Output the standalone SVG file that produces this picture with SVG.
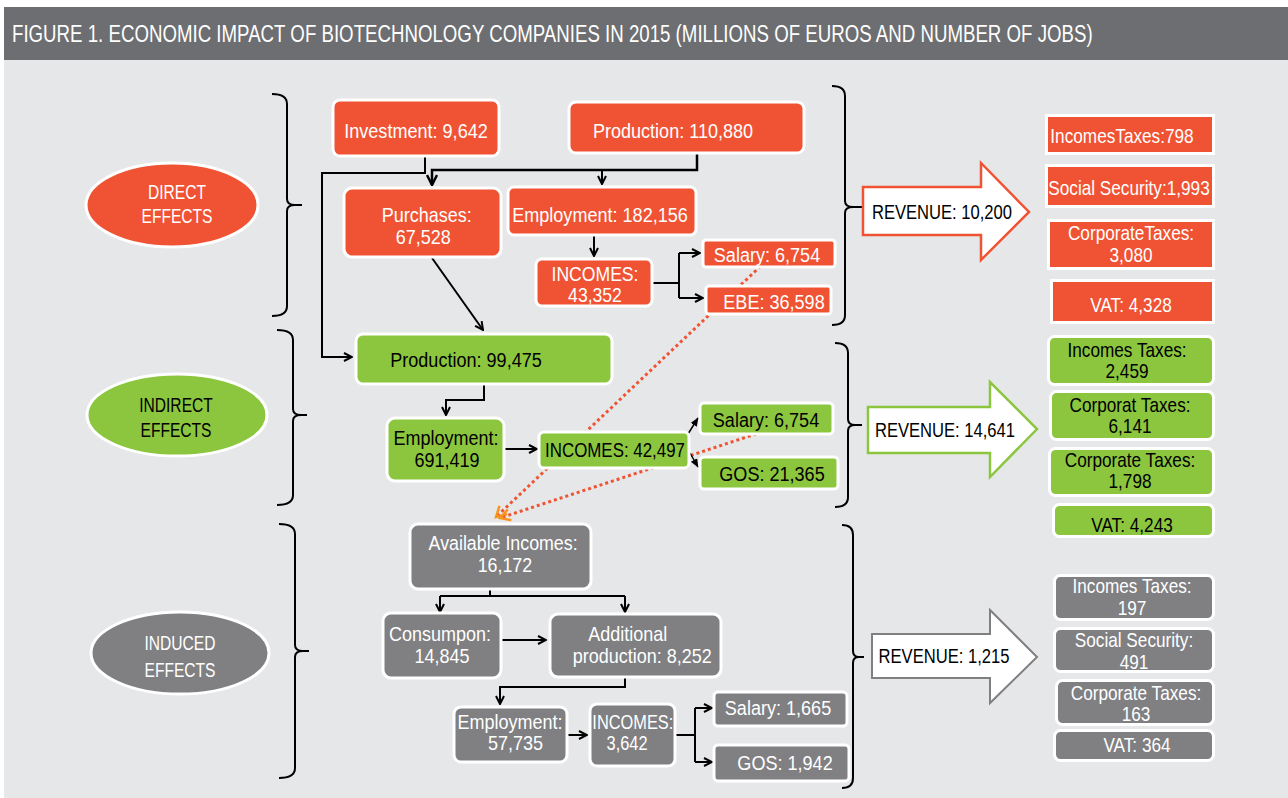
<svg xmlns="http://www.w3.org/2000/svg" width="1288" height="798" viewBox="0 0 1288 798">
<style>
text{font-family:"Liberation Sans",Arial,sans-serif;text-anchor:middle}
.t{font-size:21px}
.s{font-size:20px}
.w{fill:#fff}
.k{fill:#000}
.o{fill:#f05333}
.g{fill:#8cc63f}
.y{fill:#808083}
.bx{stroke:#fff;stroke-width:3}
.c{fill:none;stroke:#000;stroke-width:2}
.br{fill:none;stroke:#000;stroke-width:2}
.dot{fill:none;stroke:#f05333;stroke-width:3;stroke-dasharray:3 3}
</style>
<defs>
<marker id="ah" viewBox="0 0 10 10" refX="9" refY="5" markerWidth="5" markerHeight="5" orient="auto" markerUnits="strokeWidth">
<path d="M1,1 L9,5 L1,9" fill="none" stroke="#000" stroke-width="2"/>
</marker>
<marker id="ahs" viewBox="0 0 10 10" refX="9" refY="5" markerWidth="6" markerHeight="6" orient="auto" markerUnits="strokeWidth">
<path d="M0,1 L10,5 L0,9 Z" fill="#000"/>
</marker>
<marker id="aho" viewBox="0 0 12 12" refX="10" refY="6" markerWidth="4.5" markerHeight="4.5" orient="auto" markerUnits="strokeWidth">
<path d="M1,1 L10,6 L1,11" fill="none" stroke="#f7941d" stroke-width="2.2"/>
</marker>
</defs>
<rect x="0" y="0" width="1288" height="798" fill="#fff"/>
<rect x="4" y="60" width="1284" height="738" fill="#e6e7e8"/>
<g id="header">
<rect x="4" y="7" width="1284" height="53" fill="#6d6e71"/>
<text transform="translate(12 42) scale(.778 1)" style="text-anchor:start;font-size:24px" fill="#fff">FIGURE 1. ECONOMIC IMPACT OF BIOTECHNOLOGY COMPANIES IN 2015 (MILLIONS OF EUROS AND NUMBER OF JOBS)</text>
</g>

<g id="connectors">
<path class="dot" d="M765,262 L496,517" marker-end="url(#aho)"/>
<path class="dot" d="M762,432 L500,518" marker-end="url(#aho)"/>
<path class="c" style="stroke-width:2.5" d="M697,153 V170 H432 V185" marker-end="url(#ah)"/>
<path class="c" d="M602,170 V184" marker-end="url(#ah)"/>
<path class="c" d="M425,157 V173 H322 V357 H352" marker-end="url(#ah)"/>
<path class="c" d="M594,235 V256" marker-end="url(#ah)"/>
<path class="c" d="M653,283 H679 M679,253 V298"/>
<path class="c" d="M679,253 H700" marker-end="url(#ah)"/>
<path class="c" d="M679,298 H703" marker-end="url(#ah)"/>
<path class="c" d="M432,258 L483,330" marker-end="url(#ah)"/>
<path class="c" d="M484,384 V400 H446 V415" marker-end="url(#ah)"/>
<path class="c" d="M505,449 H537" marker-end="url(#ah)"/>
<path class="c" style="stroke-width:1.5" d="M688,434 L698,418" marker-end="url(#ahs)"/>
<path class="c" style="stroke-width:1.5" d="M690,453 L698,467" marker-end="url(#ahs)"/>
<path class="c" d="M490,589 V596 M440,596 H625"/>
<path class="c" d="M440,596 V612" marker-end="url(#ah)"/>
<path class="c" d="M625,596 V612" marker-end="url(#ah)"/>
<path class="c" d="M502,640 H546" marker-end="url(#ah)"/>
<path class="c" d="M625,677 V687 H500 V704" marker-end="url(#ah)"/>
<path class="c" d="M568,735 H587" marker-end="url(#ah)"/>
<path class="c" d="M676,735 H695 M695,708 V762"/>
<path class="c" d="M695,708 H712" marker-end="url(#ah)"/>
<path class="c" d="M695,762 H712" marker-end="url(#ah)"/>
</g>

<g id="braces">
<path class="br" d="M272,94 Q287,94 287,104 V199 Q287,205 295,205 H302 M295,205 Q287,205 287,211 V306 Q287,316 272,316"/>
<path class="br" d="M277,330 Q293,330 293,340 V409 Q293,415 301,415 H307 M301,415 Q293,415 293,421 V495 Q293,505 277,505"/>
<path class="br" d="M279,524 Q295,524 295,534 V645 Q295,651 303,651 H309 M303,651 Q295,651 295,657 V768 Q295,778 279,778"/>
<path class="br" d="M832,86 Q845,86 845,96 V201 Q845,207 853,207 H862 M853,207 Q845,207 845,213 V315 Q845,325 832,325"/>
<path class="br" d="M835,343 Q848,343 848,353 V419 Q848,425 855,425 H862 M855,425 Q848,425 848,431 V497 Q848,507 835,507"/>
<path class="br" d="M842,525 Q853,525 853,535 V651 Q853,657 859,657 H864 M859,657 Q853,657 853,663 V778 Q853,788 842,788"/>
</g>

<g id="direct-effects">
<ellipse class="o bx" cx="172" cy="205" rx="86" ry="42"/>
<text class="s w" transform="translate(177 199) scale(.78 1)"><tspan x="0">DIRECT</tspan><tspan x="0" dy="24">EFFECTS</tspan></text>
</g>
<g id="indirect-effects">
<ellipse class="g bx" cx="177" cy="415" rx="90" ry="41"/>
<text class="s k" transform="translate(176 412) scale(.78 1)"><tspan x="0">INDIRECT</tspan><tspan x="0" dy="25">EFFECTS</tspan></text>
</g>
<g id="induced-effects">
<ellipse class="y bx" cx="180" cy="653" rx="89" ry="41"/>
<text class="s w" transform="translate(180 650) scale(.78 1)"><tspan x="0">INDUCED</tspan><tspan x="0" dy="27">EFFECTS</tspan></text>
</g>

<g id="investment">
<rect class="o bx" x="333" y="100" width="166" height="56" rx="7"/>
<text class="t w" transform="translate(416 138) scale(.86 1)">Investment: 9,642</text>
</g>
<g id="production-direct">
<rect class="o bx" x="569" y="102" width="235" height="51" rx="7"/>
<text class="t w" transform="translate(673 138) scale(.86 1)">Production: 110,880</text>
</g>
<g id="purchases">
<rect class="o bx" x="344" y="188" width="157" height="69" rx="8"/>
<text class="s w" transform="translate(425 222) scale(.9 1)"><tspan x="2">Purchases:</tspan><tspan x="-2" dy="22">67,528</tspan></text>
</g>
<g id="employment-direct">
<rect class="o bx" x="508" y="187" width="188" height="48" rx="6"/>
<text class="t w" transform="translate(600 222) scale(.86 1)">Employment: 182,156</text>
</g>
<g id="incomes-direct">
<rect class="o bx" x="536" y="259" width="116" height="47" rx="6"/>
<text class="s w" transform="translate(595 280.5) scale(.88 1)"><tspan x="0">INCOMES:</tspan><tspan x="0" dy="21.5">43,352</tspan></text>
</g>
<g id="salary-direct">
<rect class="o bx" x="703" y="240" width="132" height="27" rx="3"/>
<text class="t w" transform="translate(767 262) scale(.86 1)">Salary: 6,754</text>
</g>
<g id="ebe-direct">
<rect class="o bx" x="706" y="286" width="125" height="28" rx="3"/>
<text class="t w" transform="translate(774 309) scale(.86 1)">EBE: 36,598</text>
</g>

<g id="production-indirect">
<rect class="g bx" x="356" y="334" width="256" height="50" rx="7"/>
<text class="t k" transform="translate(466 367) scale(.86 1)">Production: 99,475</text>
</g>
<g id="employment-indirect">
<rect class="g bx" x="387" y="418" width="117" height="63" rx="8"/>
<text class="s k" transform="translate(446 445) scale(.9 1)"><tspan x="0">Employment:</tspan><tspan x="1" dy="22">691,419</tspan></text>
</g>
<g id="incomes-indirect">
<rect class="g bx" x="539" y="432" width="150" height="36" rx="5"/>
<text class="t k" transform="translate(615 457) scale(.805 1)">INCOMES: 42,497</text>
</g>
<g id="salary-indirect">
<rect class="g bx" x="700" y="403" width="133" height="31" rx="4"/>
<text class="t k" transform="translate(766 427) scale(.86 1)">Salary: 6,754</text>
</g>
<g id="gos-indirect">
<rect class="g bx" x="700" y="457" width="138" height="32" rx="4"/>
<text class="t k" transform="translate(772 481) scale(.86 1)">GOS: 21,365</text>
</g>

<g id="available-incomes">
<rect class="y bx" x="410" y="524" width="181" height="65" rx="8"/>
<text class="s w" transform="translate(504 550) scale(.89 1)"><tspan x="-1">Available Incomes:</tspan><tspan x="1" dy="22">16,172</tspan></text>
</g>
<g id="consumption">
<rect class="y bx" x="383" y="613" width="118" height="65" rx="8"/>
<text class="s w" transform="translate(441 641) scale(.9 1)"><tspan x="-1">Consumpon:</tspan><tspan x="1" dy="22">14,845</tspan></text>
</g>
<g id="additional-production">
<rect class="y bx" x="550" y="614" width="171" height="63" rx="8"/>
<text class="s w" transform="translate(635 641) scale(.9 1)"><tspan x="-8">Additional</tspan><tspan x="8" dy="22">production: 8,252</tspan></text>
</g>
<g id="employment-induced">
<rect class="y bx" x="454" y="707" width="113" height="55" rx="7"/>
<text class="s w" transform="translate(511 729) scale(.9 1)"><tspan x="-1">Employment:</tspan><tspan x="5" dy="21.5">57,735</tspan></text>
</g>
<g id="incomes-induced">
<rect class="y bx" x="590" y="704" width="85" height="62" rx="7"/>
<text class="s w" transform="translate(632 729) scale(.82 1)"><tspan x="1">INCOMES:</tspan><tspan x="-6" dy="21.5">3,642</tspan></text>
</g>
<g id="salary-induced">
<rect class="y bx" x="714" y="692" width="133" height="34" rx="4"/>
<text class="t w" transform="translate(778 715) scale(.86 1)">Salary: 1,665</text>
</g>
<g id="gos-induced">
<rect class="y bx" x="714" y="745" width="135" height="36" rx="4"/>
<text class="t w" transform="translate(785 770) scale(.86 1)">GOS: 1,942</text>
</g>

<g id="revenue-direct">
<polygon points="863,187 981,187 981,163 1029,212 981,260 981,235 863,235" fill="#fff" stroke="#f05333" stroke-width="2.5"/>
<text class="t k" transform="translate(942 219) scale(.79 1)">REVENUE: 10,200</text>
</g>
<g id="revenue-indirect">
<polygon points="868,407 990,407 990,382 1037,429 990,477 990,453 868,453" fill="#fff" stroke="#8cc63f" stroke-width="2.5"/>
<text class="t k" transform="translate(945 437) scale(.79 1)">REVENUE: 14,641</text>
</g>
<g id="revenue-induced">
<polygon points="872,634 990,634 990,610 1037,657 990,703 990,678 872,678" fill="#fff" stroke="#808083" stroke-width="2"/>
<text class="t k" transform="translate(944 663) scale(.79 1)">REVENUE: 1,215</text>
</g>

<g id="tax-direct-income">
<rect class="o bx" x="1046.5" y="115.5" width="167" height="38"/>
<text class="s w" transform="translate(1122 143) scale(.86 1)">IncomesTaxes:798</text>
</g>
<g id="tax-direct-social">
<rect class="o bx" x="1046.5" y="165.5" width="167" height="41"/>
<text class="s w" transform="translate(1129 195) scale(.86 1)">Social Security:1,993</text>
</g>
<g id="tax-direct-corporate">
<rect class="o bx" x="1048.5" y="220.5" width="165" height="48"/>
<text class="s w" transform="translate(1131 240) scale(.86 1)"><tspan x="0">CorporateTaxes:</tspan><tspan x="0" dy="22">3,080</tspan></text>
</g>
<g id="tax-direct-vat">
<rect class="o bx" x="1051.5" y="280.5" width="162" height="42"/>
<text class="s w" transform="translate(1131 312) scale(.86 1)">VAT: 4,328</text>
</g>

<g id="tax-indirect-income">
<rect class="g bx" x="1048.5" y="336.5" width="165" height="48" rx="6"/>
<text class="s k" transform="translate(1127 357) scale(.86 1)"><tspan x="0">Incomes Taxes:</tspan><tspan x="0" dy="21.5">2,459</tspan></text>
</g>
<g id="tax-indirect-corporat">
<rect class="g bx" x="1050.5" y="391.5" width="163" height="48" rx="6"/>
<text class="s k" transform="translate(1130 412) scale(.86 1)"><tspan x="0">Corporat Taxes:</tspan><tspan x="0" dy="21.5">6,141</tspan></text>
</g>
<g id="tax-indirect-corporate">
<rect class="g bx" x="1049.5" y="448.5" width="164" height="47" rx="6"/>
<text class="s k" transform="translate(1130 467) scale(.86 1)"><tspan x="0">Corporate Taxes:</tspan><tspan x="0" dy="21.5">1,798</tspan></text>
</g>
<g id="tax-indirect-vat">
<rect class="g bx" x="1053.5" y="504.5" width="160" height="32" rx="6"/>
<text class="s k" transform="translate(1132 532) scale(.86 1)">VAT: 4,243</text>
</g>

<g id="tax-induced-income">
<rect class="y bx" x="1054.5" y="575.5" width="159" height="44" rx="6"/>
<text class="s w" transform="translate(1132 593) scale(.86 1)"><tspan x="0">Incomes Taxes:</tspan><tspan x="0" dy="22">197</tspan></text>
</g>
<g id="tax-induced-social">
<rect class="y bx" x="1054.5" y="628.5" width="159" height="43" rx="6"/>
<text class="s w" transform="translate(1134 647) scale(.86 1)"><tspan x="0">Social Security:</tspan><tspan x="0" dy="22">491</tspan></text>
</g>
<g id="tax-induced-corporate">
<rect class="y bx" x="1056.5" y="680.5" width="157" height="44" rx="6"/>
<text class="s w" transform="translate(1136 700) scale(.86 1)"><tspan x="0">Corporate Taxes:</tspan><tspan x="0" dy="21.5">163</tspan></text>
</g>
<g id="tax-induced-vat">
<rect class="y bx" x="1054.5" y="730.5" width="159" height="30" rx="6"/>
<text class="s w" transform="translate(1137 752) scale(.86 1)">VAT: 364</text>
</g>
</svg>
